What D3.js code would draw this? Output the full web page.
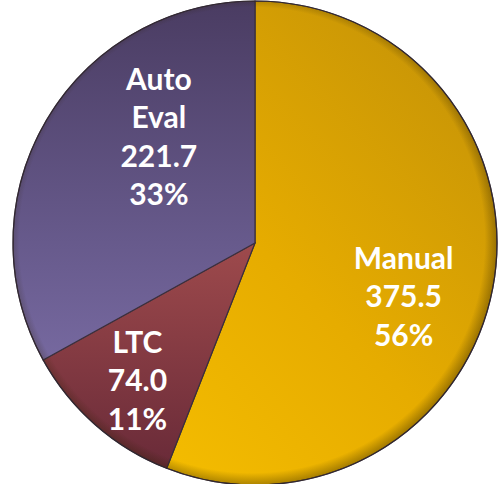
<!DOCTYPE html>
<html>
<head>
<meta charset="utf-8">
<script src="https://cdn.jsdelivr.net/npm/d3@7/dist/d3.min.js"></script>
<style>
  html, body { margin: 0; padding: 0; background: #fff; }
  svg { display: block; }
  .slice-label { font-family: Lato, "Open Sans", sans-serif; font-weight: 700; fill: #fff; }
</style>
</head>
<body>
<div id="chart"></div>
<script>
// データ
const categories = ['Manual', 'LTC', 'Auto Eval'];
const values = [375.5, 74.0, 221.7];
const percentLabels = ['56%', '11%', '33%'];

const width = 500;
const height = 484;
const cx = 255;
const cy = 243;
const radius = 242;

const svg = d3.select('#chart')
    .append('svg')
    .attr('width', width)
    .attr('height', height);

const defs = svg.append('defs');

// 各スライスのグラデーション (中心基準の座標)
const gradients = [
    { id: 'g-manual', from: [-1, 1], to: [1, -1], stops: ['#fbc400', '#e6ac00', '#c08f08'] },
    { id: 'g-ltc', from: [0, -1], to: [0, 1], stops: ['#c06462', '#9e4a4c', '#652837'] },
    { id: 'g-auto', from: [0, -1], to: [0, 1], stops: ['#4a3c62', '#675a8c', '#8678b4'] }
];

gradients.forEach(g => {
    const lg = defs.append('linearGradient')
        .attr('id', g.id)
        .attr('gradientUnits', 'userSpaceOnUse')
        .attr('x1', g.from[0] * radius)
        .attr('y1', g.from[1] * radius)
        .attr('x2', g.to[0] * radius)
        .attr('y2', g.to[1] * radius);
    g.stops.forEach((c, i) => {
        lg.append('stop')
            .attr('offset', (i / (g.stops.length - 1)) * 100 + '%')
            .attr('stop-color', c);
    });
});

// 縁の影
const rim = defs.append('radialGradient')
    .attr('id', 'rim')
    .attr('gradientUnits', 'userSpaceOnUse')
    .attr('cx', -3).attr('cy', -3)
    .attr('r', radius + 3);
rim.append('stop').attr('offset', '95%').attr('stop-color', '#2a1e00').attr('stop-opacity', 0);
rim.append('stop').attr('offset', '100%').attr('stop-color', '#2a1e00').attr('stop-opacity', 0.35);

const fills = ['url(#g-manual)', 'url(#g-ltc)', 'url(#g-auto)'];

const pie = d3.pie().sort(null).value(d => d);
const arcs = pie(values);

const arc = d3.arc().innerRadius(0).outerRadius(radius);

const g = svg.append('g').attr('transform', `translate(${cx},${cy})`);

g.selectAll('path.slice')
    .data(arcs)
    .enter().append('path')
    .attr('class', 'slice')
    .attr('d', arc)
    .attr('fill', (d, i) => fills[i])
    .attr('stroke', '#3b2f3c')
    .attr('stroke-width', 1.2);

g.append('circle')
    .attr('r', radius)
    .attr('fill', 'url(#rim)')
    .attr('stroke', '#2e2530')
    .attr('stroke-opacity', 0.8)
    .attr('stroke-width', 1.2)
    .style('pointer-events', 'none');

// ラベル位置 (中央角からのずれ, 半径)
const labelPlace = [
    { dAngle: 0.159, r: 158 },
    { dAngle: -0.013, r: 181 },
    { dAngle: 0.300, r: 143 }
];
const lineHeight = 38.5;
const fontSize = 30;

arcs.forEach((d, i) => {
    const mid = (d.startAngle + d.endAngle) / 2 + labelPlace[i].dAngle;
    const x = Math.sin(mid) * labelPlace[i].r;
    const y = -Math.cos(mid) * labelPlace[i].r;
    const lines = categories[i].split(' ').concat([d3.format('.1f')(values[i]), percentLabels[i]]);
    const top = y - (lines.length - 1) * lineHeight / 2;
    const text = g.append('text')
        .attr('class', 'slice-label')
        .attr('text-anchor', 'middle')
        .style('font-size', fontSize + 'px');
    lines.forEach((t, k) => {
        text.append('tspan')
            .attr('x', x)
            .attr('y', top + k * lineHeight)
            .attr('dy', '0.35em')
            .text(t);
    });
});
</script>
</body>
</html>
